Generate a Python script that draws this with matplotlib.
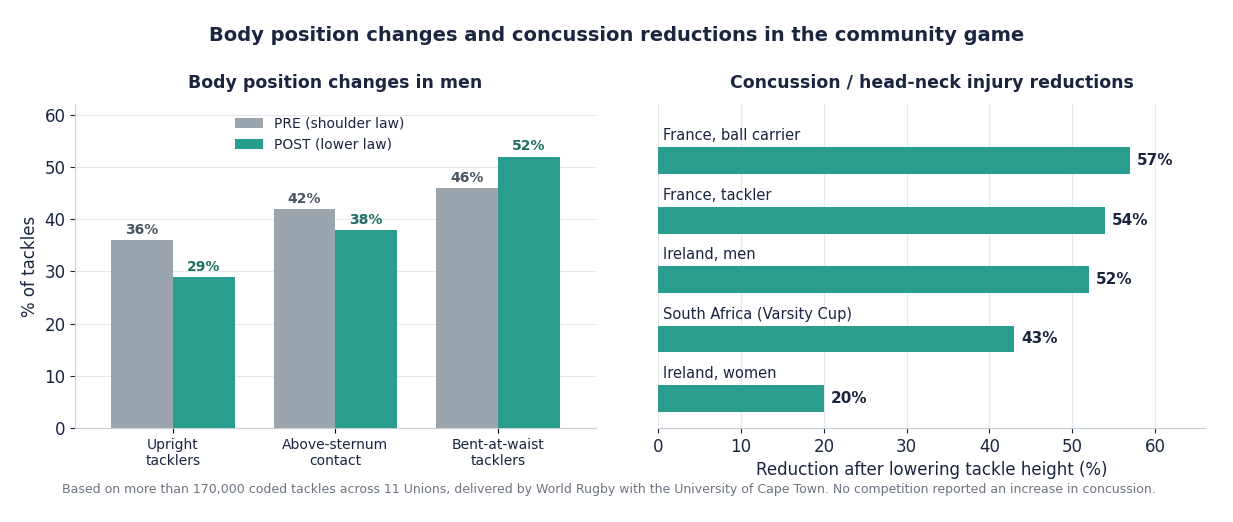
import matplotlib.pyplot as plt
import numpy as np

groups = ["Upright\ntacklers", "Above-sternum\ncontact", "Bent-at-waist\ntacklers"]
pre = [36, 42, 46]
post = [29, 38, 52]

injury_labels = ["France, ball carrier", "France, tackler", "Ireland, men",
                 "South Africa (Varsity Cup)", "Ireland, women"]
injury_vals = [57, 54, 52, 43, 20]

GREY = "#9aa5ae"
TEAL = "#2a9d8f"
NAVY = "#1b2540"

fig = plt.figure(figsize=(12.33, 5.22), dpi=100)
fig.suptitle("Body position changes and concussion reductions in the community game",
             fontsize=14, fontweight="bold", color=NAVY, y=0.95)

ax1 = fig.add_axes([0.061, 0.18, 0.422, 0.62])
x = np.arange(len(groups))
w = 0.38
ax1.bar(x - w / 2, pre, w, color=GREY, label="PRE (shoulder law)", zorder=3)
ax1.bar(x + w / 2, post, w, color=TEAL, label="POST (lower law)", zorder=3)
for i in range(len(groups)):
    ax1.text(x[i] - w / 2, pre[i] + 0.6, f"{pre[i]}%", ha="center", va="bottom",
             fontsize=10, fontweight="bold", color="#4a5563")
    ax1.text(x[i] + w / 2, post[i] + 0.6, f"{post[i]}%", ha="center", va="bottom",
             fontsize=10, fontweight="bold", color="#1f6e62")
ax1.set_xticks(x)
ax1.set_xticklabels(groups, fontsize=10, color=NAVY)
ax1.set_ylim(0, 62)
ax1.set_xlim(-0.6, 2.6)
ax1.set_yticks(range(0, 61, 10))
ax1.tick_params(axis="y", labelsize=12, colors=NAVY)
ax1.set_ylabel("% of tackles", fontsize=12, color=NAVY)
ax1.grid(axis="y", color="#e5e8ec", zorder=0)
ax1.set_title("Body position changes in men", fontsize=12.5, fontweight="bold",
              color=NAVY, pad=12)
for s in ["top", "right"]:
    ax1.spines[s].set_visible(False)
for s in ["left", "bottom"]:
    ax1.spines[s].set_color("#c8ced6")
ax1.legend(loc="upper center", frameon=False, fontsize=10, bbox_to_anchor=(0.47, 1.0),
           labelcolor=NAVY)

ax2 = fig.add_axes([0.534, 0.18, 0.443, 0.62])
y = np.arange(len(injury_vals))
ax2.barh(y, injury_vals, height=0.45, color=TEAL, zorder=3)
for i, v in enumerate(injury_vals):
    ax2.text(v + 0.8, y[i], f"{v}%", va="center", ha="left", fontsize=11,
             fontweight="bold", color=NAVY)
    ax2.text(0.5, y[i] - 0.42, injury_labels[i], va="center", ha="left",
             fontsize=10.5, color=NAVY)
ax2.set_ylim(len(injury_vals) - 0.5, -0.95)
ax2.set_xlim(0, 66)
ax2.set_yticks([])
ax2.set_xticks(range(0, 61, 10))
ax2.tick_params(axis="x", labelsize=12, colors=NAVY)
ax2.set_xlabel("Reduction after lowering tackle height (%)", fontsize=12, color=NAVY)
ax2.grid(axis="x", color="#e5e8ec", zorder=0)
ax2.set_title("Concussion / head-neck injury reductions", fontsize=12.5,
              fontweight="bold", color=NAVY, pad=12)
for s in ["top", "right", "left"]:
    ax2.spines[s].set_visible(False)
ax2.spines["bottom"].set_color("#c8ced6")

fig.text(0.05, 0.055, "Based on more than 170,000 coded tackles across 11 Unions, delivered by "
         "World Rugby with the University of Cape Town. No competition reported an increase in concussion.",
         fontsize=9, color="#6b7480", ha="left")

fig.savefig("out.png", dpi=100)
